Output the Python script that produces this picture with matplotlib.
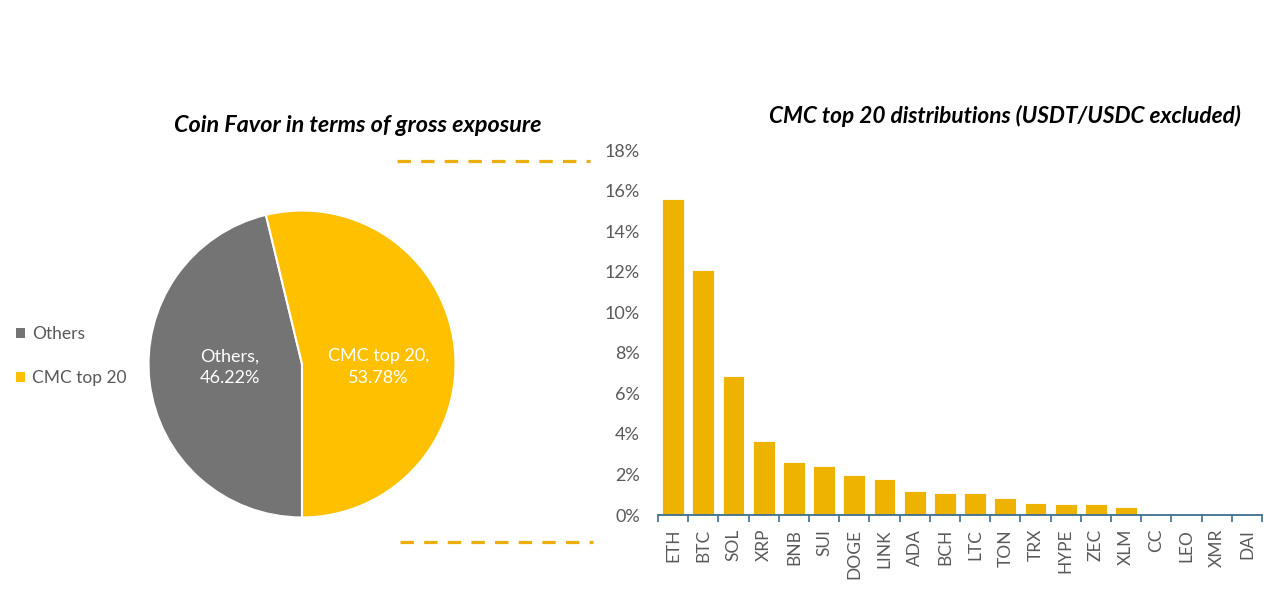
import matplotlib
matplotlib.use("Agg")
import matplotlib.pyplot as plt
from matplotlib.patches import Patch
from matplotlib.lines import Line2D
import numpy as np

# ---- data ----
pie_labels = ["Others", "CMC top 20"]
pie_values = [46.22, 53.78]
pie_colors = ["#747474", "#FFC000"]

coins = ["ETH", "BTC", "SOL", "XRP", "BNB", "SUI", "DOGE", "LINK", "ADA", "BCH",
         "LTC", "TON", "TRX", "HYPE", "ZEC", "XLM", "CC", "LEO", "XMR", "DAI"]
shares = [15.6, 12.1, 6.86, 3.65, 2.63, 2.43, 1.97, 1.78, 1.18, 1.10,
          1.07, 0.82, 0.58, 0.53, 0.53, 0.41, 0.05, 0.0, 0.0, 0.0]
yticks = [0, 2, 4, 6, 8, 10, 12, 14, 16, 18]

FONT = "Lato"
plt.rcParams['font.family'] = [FONT, 'DejaVu Sans']

W, H = 1280, 613
fig = plt.figure(figsize=(W / 100, H / 100), dpi=100)

def fx(px):
    return px / W

def fy(py):
    return 1 - py / H

# ---- pie ----
cx, cy, r = 302, 364, 155
axp = fig.add_axes([fx(cx - r), fy(cy + r), fx(2 * r), (2 * r) / H])
wedges, _ = axp.pie(pie_values, colors=pie_colors, startangle=270, counterclock=False,
                    radius=1, wedgeprops=dict(edgecolor="white", linewidth=1.5))
axp.set_xlim(-1.01, 1.01)
axp.set_ylim(-1.01, 1.01)
axp.set_aspect("auto")
axp.axis("off")
axp.text(-0.47, -0.02, f"{pie_labels[0]},\n{pie_values[0]:.2f}%", color="white",
         ha="center", va="center", fontsize=13, linespacing=1.45)
axp.text(0.50, -0.02, f"{pie_labels[1]},\n{pie_values[1]:.2f}%", color="white",
         ha="center", va="center", fontsize=13, linespacing=1.45)

handles = [Patch(facecolor=c, edgecolor="none") for c in pie_colors]
fig.legend(handles, pie_labels, loc="center left", bbox_to_anchor=(fx(0), fy(356)),
           frameon=False, fontsize=12.5, handlelength=0.55, handleheight=0.55,
           handletextpad=0.4, labelspacing=1.6, labelcolor="#595959")

fig.text(fx(358), fy(126), "Coin Favor in terms of gross exposure", ha="center", va="center",
         fontsize=16.8, fontweight="bold", fontstyle="italic", color="black")

# ---- dashed connector lines ----
gold = "#EBAE0C"
for y, x0, x1 in [(161, 397, 590), (542, 400, 593)]:
    fig.add_artist(Line2D([fx(x0), fx(x1)], [fy(y), fy(y)], color=gold, linewidth=2.3,
                          linestyle=(0, (4.2, 3.2)), transform=fig.transFigure))

# ---- bar chart ----
left, right, bottom, top = 658, 1262, 515, 150
axb = fig.add_axes([fx(left), fy(bottom), fx(right - left), (bottom - top) / H])
x = np.arange(len(coins))
axb.bar(x, shares, width=0.72, color="#EDB300", edgecolor="white", linewidth=0.6, zorder=2)
axb.set_xlim(-0.5, len(coins) - 0.5)
axb.set_ylim(0, 18)
axb.set_yticks(yticks)
axb.set_yticklabels([f"{v}%" for v in yticks], fontsize=13, color="#595959")
axb.tick_params(axis="y", length=0, pad=13)
axb.set_xticks(np.arange(len(coins) + 1) - 0.5)
axb.set_xticklabels([])
axb.tick_params(axis="x", which="major", length=5, width=1.2, color="#3C6E8F", direction="out")
axb.set_xticks(x, minor=True)
axb.set_xticklabels(coins, minor=True, rotation=90, fontsize=12.5, color="#595959")
axb.tick_params(axis="x", which="minor", length=0, pad=10)
for s in ["top", "right", "left"]:
    axb.spines[s].set_visible(False)
axb.spines["bottom"].set_color("#3C6E8F")
axb.spines["bottom"].set_linewidth(1.3)

fig.text(fx(1005), fy(116), "CMC top 20 distributions (USDT/USDC excluded)", ha="center",
         va="center", fontsize=16.3, fontweight="bold", fontstyle="italic", color="black")

fig.savefig("out.png", dpi=100, facecolor="white")
